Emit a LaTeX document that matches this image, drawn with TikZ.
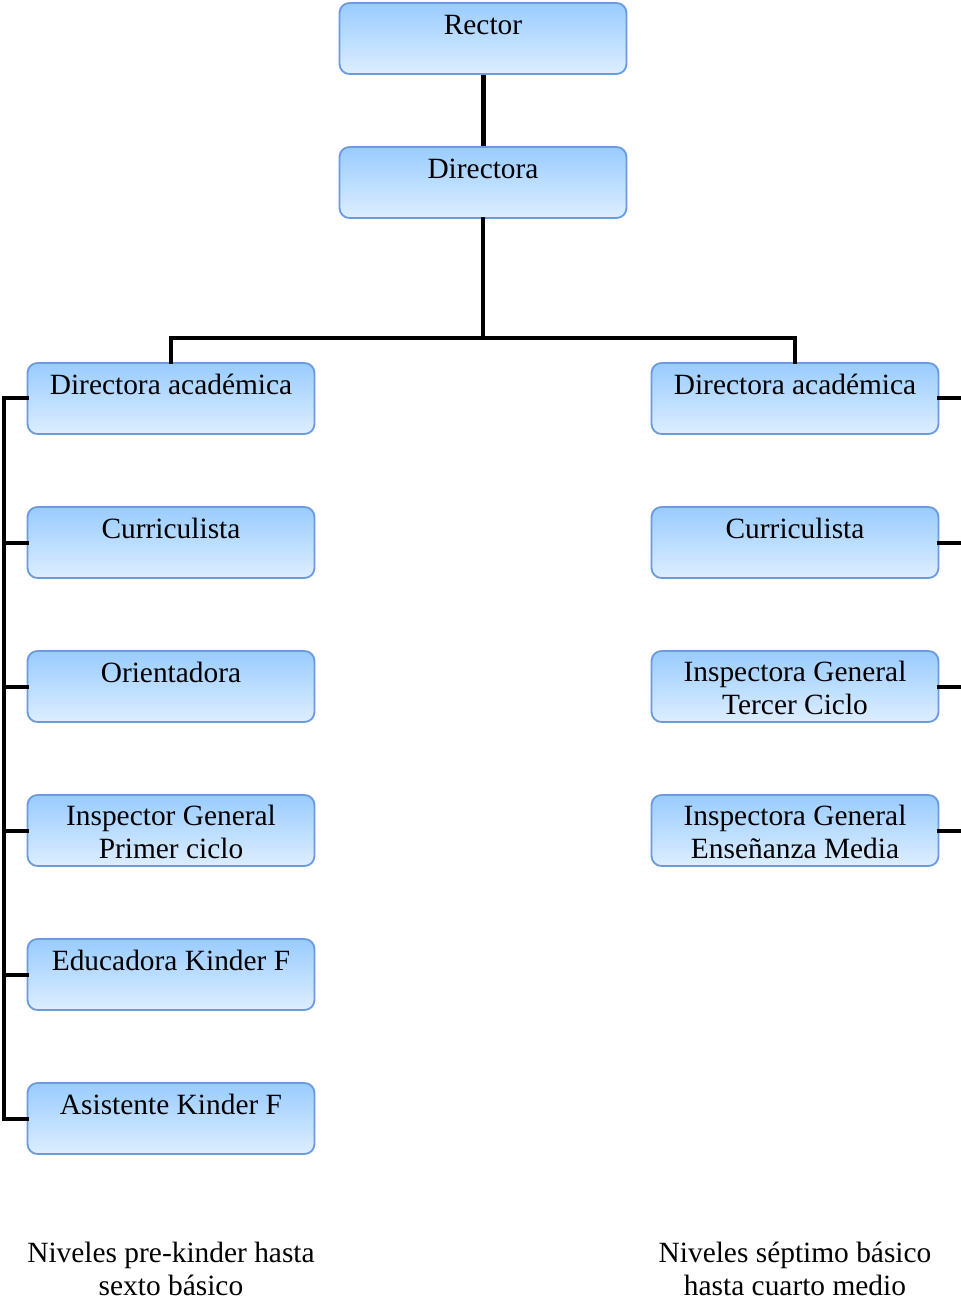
\documentclass[tikz,border=0pt]{standalone}
\usepackage{fontspec}
\setmainfont{Liberation Serif}
\usetikzlibrary{calc}
\definecolor{boxtop}{HTML}{99CCFF}
\definecolor{boxbot}{HTML}{DDEEFF}
\definecolor{boxline}{HTML}{6A9BE0}
\tikzset{
  box/.style={rectangle, rounded corners=5pt, draw=boxline, line width=0.9pt,
    top color=boxtop, bottom color=boxbot, minimum width=143.5pt,
    minimum height=35.5pt, inner sep=0pt},
  lbl/.style={anchor=base, inner sep=0pt, align=center,
    font=\fontsize{14.7}{16.5}\selectfont},
  link/.style={line width=2pt, line cap=rect},
}
\begin{document}
\begin{tikzpicture}[x=0.5pt, y=-0.5pt]
\useasboundingbox (0,0) rectangle (961,1304);
\clip (0,0) rectangle (961,1304);

% top of the chart
\node[box] (rector) at (483,38.5) {};
\node[box] (dir) at (483,182.5) {};

% left branch
\node[box] (l1) at (171,398.5) {};
\node[box] (l2) at (171,542.5) {};
\node[box] (l3) at (171,686.5) {};
\node[box] (l4) at (171,830.5) {};
\node[box] (l5) at (171,974.5) {};
\node[box] (l6) at (171,1118.5) {};

% right branch
\node[box] (r1) at (795,398.5) {};
\node[box] (r2) at (795,542.5) {};
\node[box] (r3) at (795,686.5) {};
\node[box] (r4) at (795,830.5) {};

% labels (base anchor sits on the last line)
\node[lbl] at ($(rector.north)+(0,32)$) {Rector};
\node[lbl] at ($(dir.north)+(0,32)$) {Directora};
\node[lbl] at ($(l1.north)+(0,32)$) {Directora académica};
\node[lbl] at ($(l2.north)+(0,32)$) {Curriculista};
\node[lbl] at ($(l3.north)+(0,32)$) {Orientadora};
\node[lbl] at ($(l4.north)+(0,64)$) {Inspector General\\Primer ciclo};
\node[lbl] at ($(l5.north)+(0,32)$) {Educadora Kinder F};
\node[lbl] at ($(l6.north)+(0,32)$) {Asistente Kinder F};
\node[lbl] at ($(r1.north)+(0,32)$) {Directora académica};
\node[lbl] at ($(r2.north)+(0,32)$) {Curriculista};
\node[lbl] at ($(r3.north)+(0,64)$) {Inspectora General\\Tercer Ciclo};
\node[lbl] at ($(r4.north)+(0,64)$) {Inspectora General\\Enseñanza Media};

\node[lbl] (capl) at (171,1295) {Niveles pre-kinder hasta\\sexto básico};
\node[lbl] (capr) at (795,1295) {Niveles séptimo básico\\hasta cuarto medio};

% connectors
\coordinate (split) at (483,338);
\coordinate (lspine) at (4,0);
\coordinate (rspine) at (968,0);
\draw[line width=2.5pt] (rector.south) -- (dir.north);
\draw[link] (dir.south) -- (split);
\draw[link] (l1.north) |- (split) -| (r1.north);
\draw[link] (l1.west) -- (lspine |- l1.west) -- (lspine |- l6.west) -- (l6.west);
\foreach \n in {l2,l3,l4,l5}
  \draw[link] (\n.west) -- (lspine |- \n.west);
\draw[link] (r1.east) -- (rspine |- r1.east) -- (rspine |- r4.east) -- (r4.east);
\foreach \n in {r2,r3}
  \draw[link] (\n.east) -- (rspine |- \n.east);
\end{tikzpicture}
\end{document}
